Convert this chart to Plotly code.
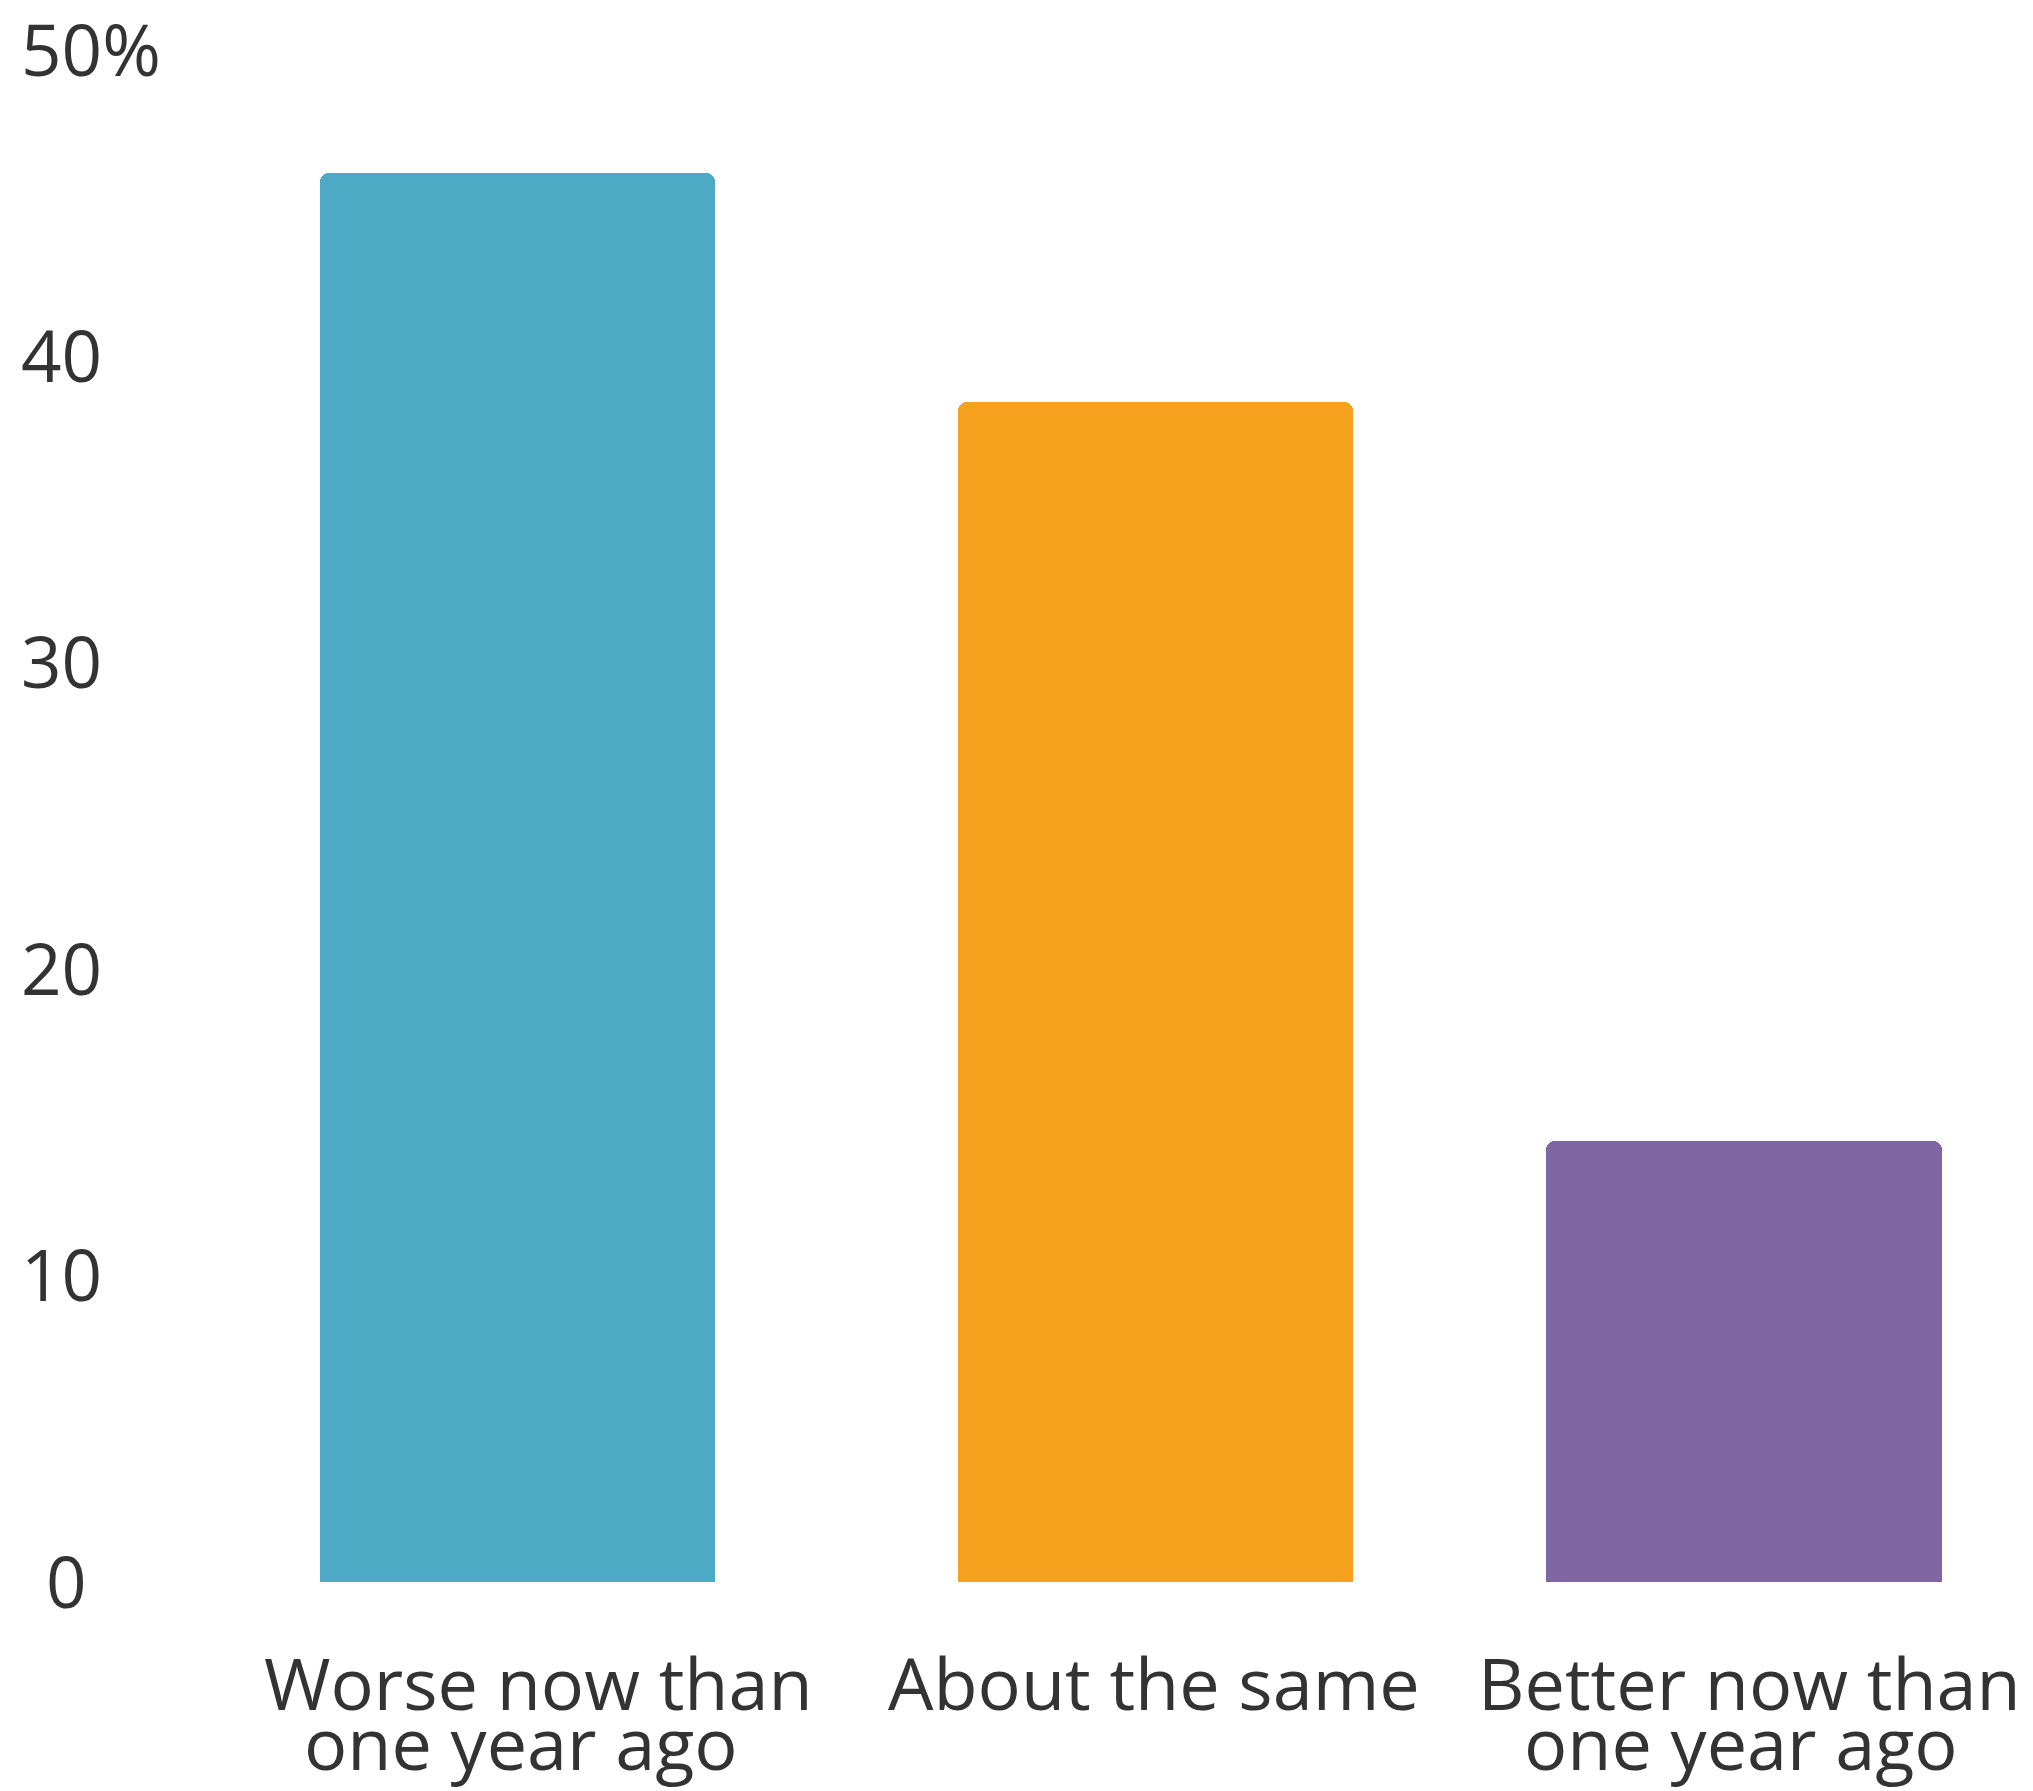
import plotly.graph_objects as go

# ---- data ----
categories = ["Worse now than one year ago", "About the same", "Better now than one year ago"]
label_line1 = ["Worse now than", "About the same", "Better now than"]
label_line2 = ["one year ago", "", "one year ago"]
values = [46.0, 38.5, 14.4]
bar_colors = ["#4CAAC5", "#F5A11D", "#7F65A2"]
y_tick_vals = [0, 10, 20, 30, 40, 50]
y_tick_text = ["0", "10", "20", "30", "40", "50%"]

# ---- style ----
FONT = "Open Sans"
TXT = "#333333"
FS_Y = 71
FS_X = 72
bar_width = 0.644
bar_offsets = [-0.335, -0.294, -0.335]
line1_xshift = [13, 15, -2]
line2_xshift = [-4, 0, -11]

fig = go.Figure()
fig.add_trace(go.Bar(
    x=categories, y=values,
    marker=dict(color=bar_colors, line=dict(width=0), cornerradius=9),
    width=[bar_width] * 3,
    offset=bar_offsets,
    hoverinfo="skip",
))

annotations = []
for v, t in zip(y_tick_vals, y_tick_text):
    annotations.append(dict(
        x=0, xref="paper", xanchor="left",
        y=v, yref="y", yanchor="middle",
        text=t, showarrow=False,
        xshift=28 if t == "0" else 3, yshift=2,
        font=dict(family=FONT, size=FS_Y, color=TXT),
    ))
for c, l1, l2, s1, s2 in zip(categories, label_line1, label_line2, line1_xshift, line2_xshift):
    annotations.append(dict(
        x=c, xref="x", xanchor="center",
        y=0, yref="paper", yanchor="middle",
        text=l1, showarrow=False, yshift=-100, xshift=s1,
        font=dict(family=FONT, size=FS_X, color=TXT),
    ))
    if l2:
        annotations.append(dict(
            x=c, xref="x", xanchor="center",
            y=0, yref="paper", yanchor="middle",
            text=l2, showarrow=False, yshift=-160, xshift=s2,
            font=dict(family=FONT, size=FS_X, color=TXT),
        ))

fig.update_layout(
    width=2033, height=1791,
    margin=dict(l=16, r=5, t=50, b=209),
    paper_bgcolor="white", plot_bgcolor="white",
    showlegend=False,
    bargap=0,
    annotations=annotations,
    xaxis=dict(range=[-0.83, 2.45], showticklabels=False, showgrid=False,
               zeroline=False, showline=False, ticks=""),
    yaxis=dict(range=[0, 50], showticklabels=False, showgrid=False,
               zeroline=False, showline=False, ticks=""),
    font=dict(family=FONT, color=TXT),
)

fig.write_html("out.html")
